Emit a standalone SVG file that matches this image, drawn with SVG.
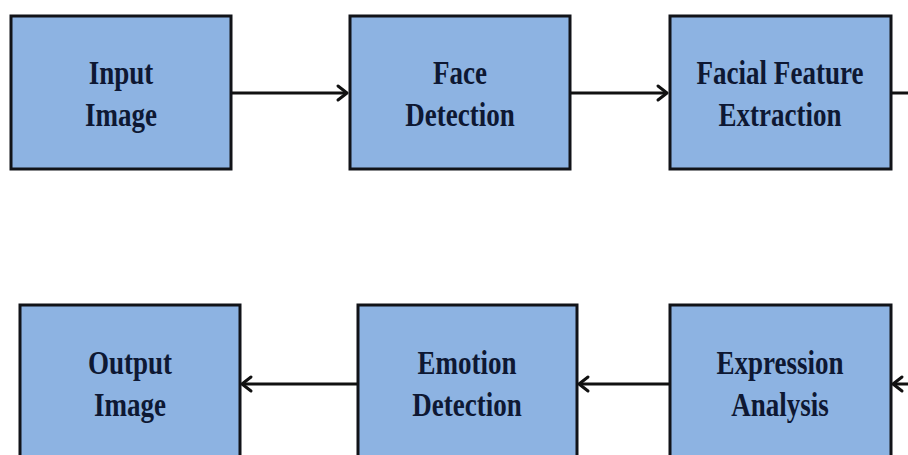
<svg xmlns="http://www.w3.org/2000/svg" width="908" height="455" viewBox="0 0 908 455">
  <style>
    .box { fill: #8db3e2; stroke: #111318; stroke-width: 3; }
    .lbl { font-family: "Liberation Serif", "Times New Roman", serif; font-weight: bold; font-size: 33px; fill: #0e1833; text-anchor: middle; }
    .wire { fill: none; stroke: #111111; stroke-width: 3; }
    .head { fill: none; stroke: #111111; stroke-width: 3; stroke-linecap: round; stroke-linejoin: round; }
  </style>
  <rect width="908" height="455" fill="#ffffff"/>

  <!-- labels use a horizontally condensed serif (scale 0.82 on x) -->
  <g id="input-image">
    <rect class="box" x="11" y="16" width="220" height="153"/>
    <text class="lbl" transform="translate(121 84) scale(0.82 1)">Input</text>
    <text class="lbl" transform="translate(121 126) scale(0.82 1)">Image</text>
  </g>
  <g id="face-detection">
    <rect class="box" x="350" y="16" width="220" height="153"/>
    <text class="lbl" transform="translate(460 84) scale(0.82 1)">Face</text>
    <text class="lbl" transform="translate(460 126) scale(0.82 1)">Detection</text>
  </g>
  <g id="facial-feature-extraction">
    <rect class="box" x="670" y="16" width="221" height="153"/>
    <text class="lbl" transform="translate(780 84) scale(0.82 1)">Facial Feature</text>
    <text class="lbl" transform="translate(780 126) scale(0.82 1)">Extraction</text>
  </g>
  <g id="output-image">
    <rect class="box" x="20" y="305" width="220" height="170"/>
    <text class="lbl" transform="translate(130 374) scale(0.82 1)">Output</text>
    <text class="lbl" transform="translate(130 416) scale(0.82 1)">Image</text>
  </g>
  <g id="emotion-detection">
    <rect class="box" x="358" y="305" width="219" height="170"/>
    <text class="lbl" transform="translate(467 374) scale(0.82 1)">Emotion</text>
    <text class="lbl" transform="translate(467 416) scale(0.82 1)">Detection</text>
  </g>
  <g id="expression-analysis">
    <rect class="box" x="670" y="305" width="221" height="170"/>
    <text class="lbl" transform="translate(780 374) scale(0.82 1)">Expression</text>
    <text class="lbl" transform="translate(780 416) scale(0.82 1)">Analysis</text>
  </g>

  <g id="connectors">
    <!-- top row, left to right -->
    <line class="wire" x1="232" y1="93" x2="346" y2="93"/>
    <polyline class="head" points="338,86 347,93 338,100"/>
    <line class="wire" x1="571" y1="93" x2="666" y2="93"/>
    <polyline class="head" points="658,86 667,93 658,100"/>
    <line class="wire" x1="892" y1="93" x2="908" y2="93"/>
    <!-- bottom row, right to left -->
    <line class="wire" x1="908" y1="384" x2="894" y2="384"/>
    <polyline class="head" points="902,377 893,384 902,391"/>
    <line class="wire" x1="669" y1="384" x2="580" y2="384"/>
    <polyline class="head" points="588,377 579,384 588,391"/>
    <line class="wire" x1="357" y1="384" x2="243" y2="384"/>
    <polyline class="head" points="251,377 242,384 251,391"/>
  </g>
</svg>
